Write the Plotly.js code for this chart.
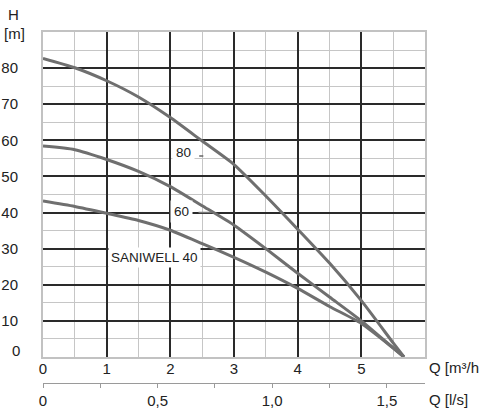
<!DOCTYPE html>
<html><head><meta charset="utf-8">
<script src="https://cdn.plot.ly/plotly-3.0.1.min.js"></script>
<style>html,body{margin:0;padding:0;background:#fff}#chart{width:483px;height:412px}</style>
</head><body><div id="chart"></div>
<script>
// Data (Q in m³/h, H in m)
const flowQ  = [0, 0.5, 1, 1.5, 2, 2.5, 3, 3.5, 4, 4.5, 5, 5.5, 5.67];
const head80 = [82.7, 80.1, 76.5, 72.0, 66.3, 59.8, 53.3, 44.6, 35.4, 26.0, 15.6, 3.9, 0];
const head60 = [58.4, 57.4, 54.7, 51.4, 47.2, 41.9, 36.5, 30.0, 23.2, 16.6, 10.0, 2.5, 0];
const head40 = [43.2, 41.7, 39.8, 37.8, 35.1, 31.4, 27.6, 23.5, 19.0, 14.0, 9.3, 2.5, 0];
const seriesNames = ['80', '60', 'SANIWELL 40'];
const xTickVals = [0, 1, 2, 3, 4, 5];
const yTickVals = [0, 10, 20, 30, 40, 50, 60, 70, 80];
const lsTickVals = [0, 0.25, 0.5, 0.75, 1.0, 1.25, 1.5];
const lsTickText = ['0', '', '0,5', '', '1,0', '', '1,5'];

const FONT = 'Liberation Sans, Arial, sans-serif';
const TXT = '#222';
const curveStyle = {color: '#6f6f6f', width: 3, shape: 'spline', smoothing: 0.6};

const traces = [head80, head60, head40].map((h, i) => ({
  type: 'scatter', mode: 'lines', x: flowQ, y: h, name: seriesNames[i],
  line: curveStyle, hoverinfo: 'skip', cliponaxis: false
}));
traces.push({type: 'scatter', mode: 'lines', x: [], y: [], xaxis: 'x2', yaxis: 'y', hoverinfo: 'skip'});

const layout = {
  width: 483, height: 412,
  margin: {l: 43, r: 58, t: 32, b: 29},
  paper_bgcolor: '#fff', plot_bgcolor: '#fff',
  showlegend: false,
  font: {family: FONT, size: 15, color: TXT},
  xaxis: {
    range: [0, 6], anchor: 'y',
    tickmode: 'array', tickvals: xTickVals, ticktext: xTickVals.map(String),
    ticks: '', showgrid: true, gridcolor: '#2a2a2a', gridwidth: 2,
    minor: {dtick: 0.5, tick0: 0, showgrid: true, gridcolor: '#c6c6c6', gridwidth: 1},
    zeroline: false, showline: true, mirror: true, linecolor: '#c2c2c2', linewidth: 2,
    tickfont: {size: 15, color: TXT}, ticklabelstandoff: -3
  },
  xaxis2: {
    range: [0, 6 / 3.6], overlaying: 'x', anchor: 'free', position: 0, side: 'bottom',
    tickmode: 'array', tickvals: lsTickVals, ticktext: lsTickText,
    ticks: 'outside', ticklen: 4, tickcolor: '#9a9a9a', tickwidth: 1,
    showgrid: false, zeroline: false, showline: true, linecolor: '#9a9a9a', linewidth: 1,
    tickfont: {size: 15, color: TXT}
  },
  yaxis: {
    range: [0, 90], domain: [26 / 351, 1],
    tickmode: 'array', tickvals: yTickVals, ticktext: yTickVals.map(v => v === 0 ? '' : String(v)),
    ticks: '', showgrid: true, gridcolor: '#2a2a2a', gridwidth: 2,
    minor: {dtick: 5, tick0: 0, showgrid: true, gridcolor: '#c6c6c6', gridwidth: 1},
    zeroline: false, showline: true, mirror: true, linecolor: '#c2c2c2', linewidth: 2,
    tickfont: {size: 15, color: TXT}, ticklabelstandoff: 20
  },
  annotations: [
    {xref: 'paper', yref: 'paper', x: -0.076, y: 1.051, text: 'H', showarrow: false,
     font: {size: 15, color: TXT}, xanchor: 'center', yanchor: 'middle'},
    {xref: 'paper', yref: 'paper', x: -0.074, y: 0.997, text: '[m]', showarrow: false,
     font: {size: 15, color: TXT}, xanchor: 'center', yanchor: 'middle'},
    {xref: 'paper', yref: 'paper', x: -0.058, y: 0.094, text: String(yTickVals[0]), showarrow: false,
     font: {size: 15, color: TXT}, xanchor: 'right', yanchor: 'middle', borderpad: 0},
    {xref: 'paper', yref: 'paper', x: 1.005, y: 0.043, text: 'Q [m³/h', showarrow: false,
     font: {size: 15, color: TXT}, xanchor: 'left', yanchor: 'middle'},
    {xref: 'paper', yref: 'paper', x: 1.005, y: -0.048, text: 'Q [l/s]', showarrow: false,
     font: {size: 15, color: TXT}, xanchor: 'left', yanchor: 'middle'},
    // curve labels
    {x: 2.199, y: 56.7, text: seriesNames[0], showarrow: false, bgcolor: '#fff', borderpad: 3,
     font: {size: 13.5, color: TXT}},
    {x: 2.175, y: 40.2, text: seriesNames[1], showarrow: false, bgcolor: '#fff', borderpad: 3,
     font: {size: 13.5, color: TXT}},
    {x: 1.747, y: 27.6, text: seriesNames[2], showarrow: false, bgcolor: '#fff', borderpad: 2,
     font: {size: 13.5, color: TXT}},
    // leader ticks
    {x: 2.518, y: 55.66, ax: 2.43, ay: 55.66, axref: 'x', ayref: 'y', text: '', showarrow: true,
     arrowhead: 0, arrowwidth: 1.5, arrowcolor: '#666'},
    {x: 2.65, y: 40, ax: 2.419, ay: 40, axref: 'x', ayref: 'y', text: '', showarrow: true,
     arrowhead: 0, arrowwidth: 1.5, arrowcolor: '#777'}
  ]
};

Plotly.newPlot('chart', traces, layout, {displayModeBar: false, staticPlot: true});
</script>
</body></html>
